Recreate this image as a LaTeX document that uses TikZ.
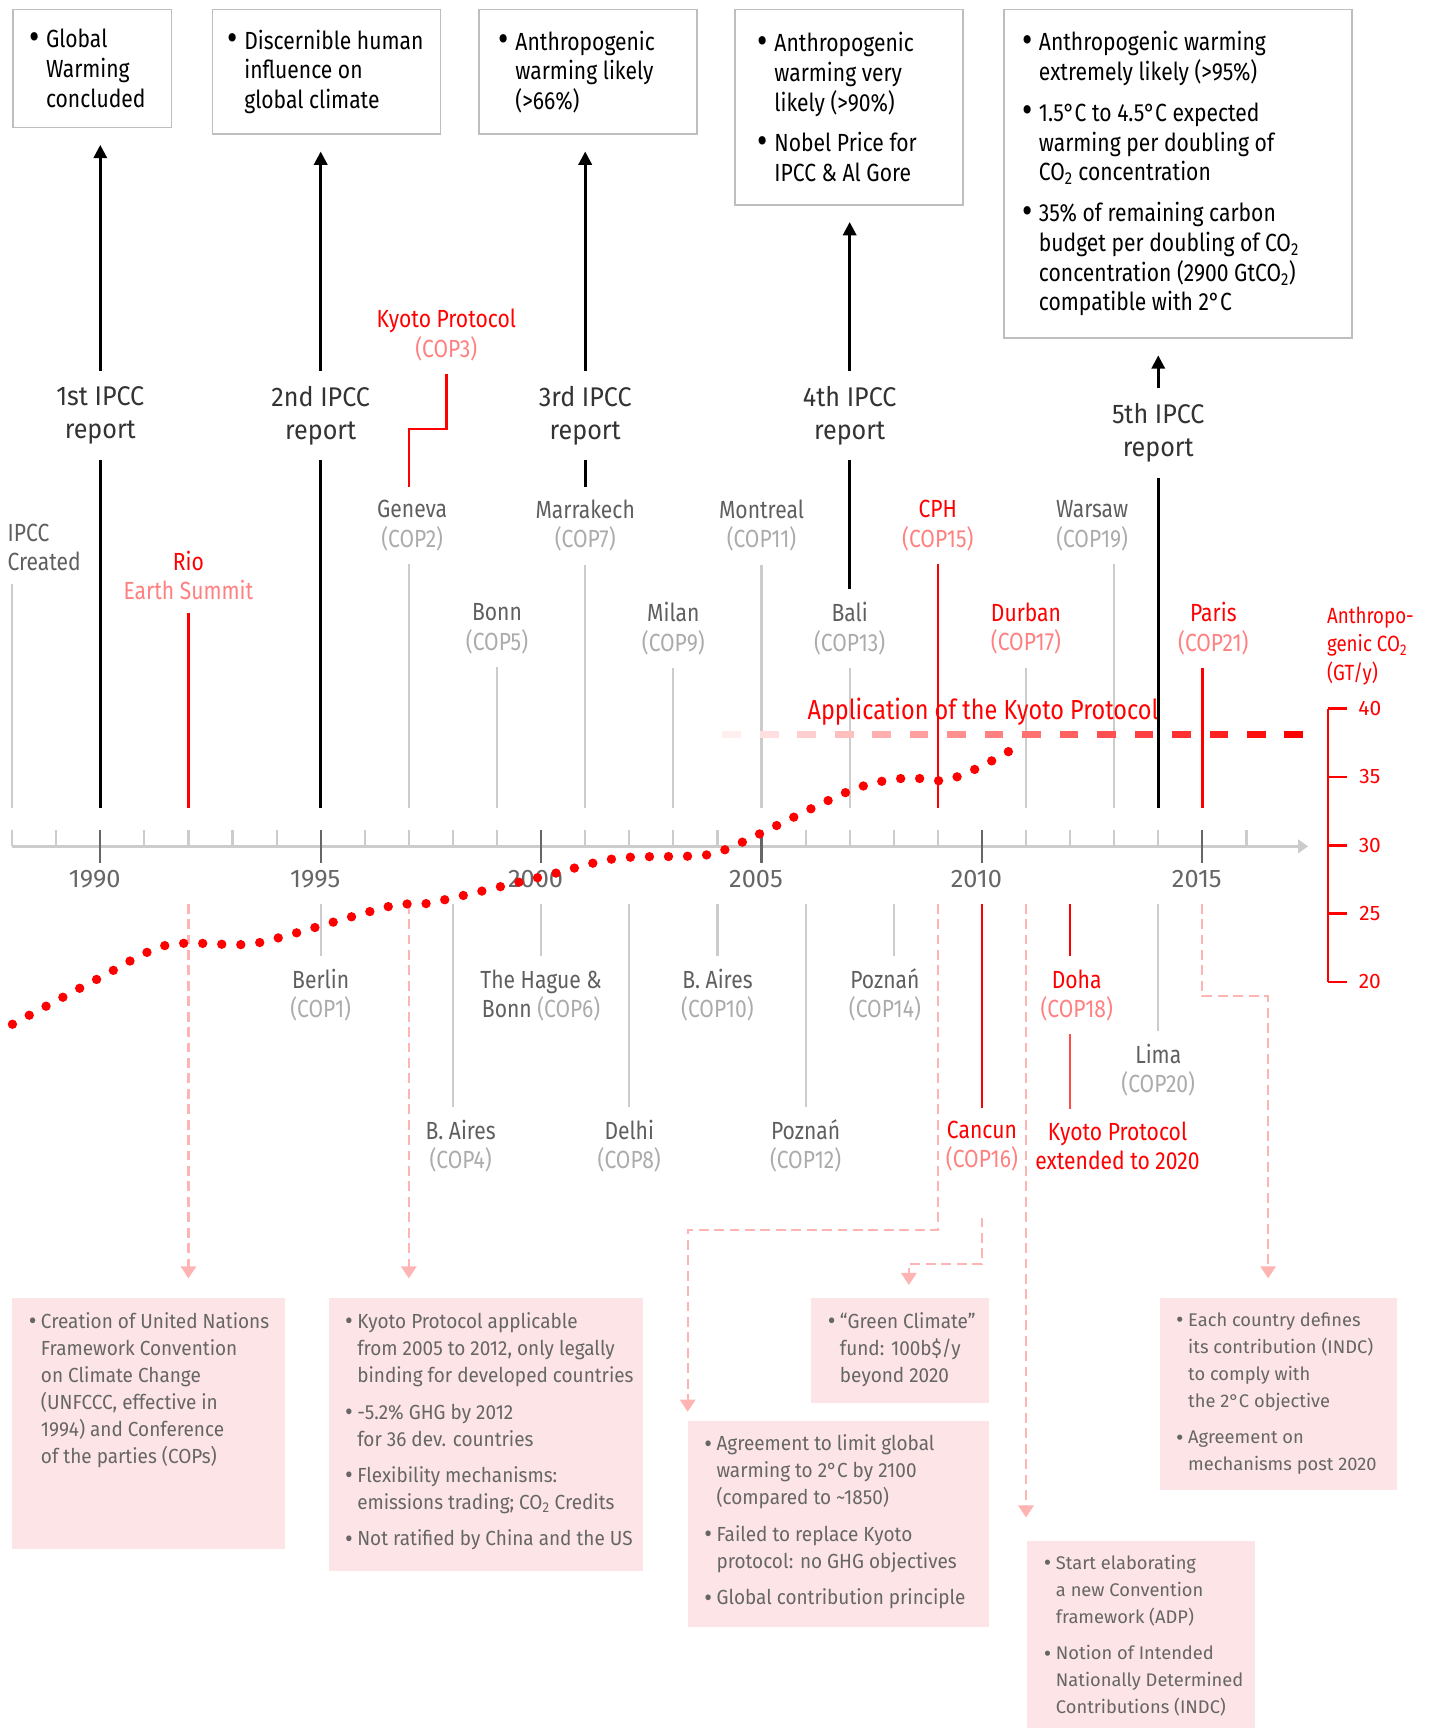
\documentclass[tikz,border=0pt]{standalone}
\usepackage{fontspec}
\setmainfont{Fira Sans}[FakeStretch=0.85]
\newfontfamily\midfont{Fira Sans}[FakeStretch=0.93]
\newfontfamily\widefont{Fira Sans}
\usetikzlibrary{arrows.meta}

\definecolor{copgray}{HTML}{ABABAB}
\definecolor{citygray}{HTML}{5F5F5F}
\definecolor{linegray}{HTML}{CCCCCC}
\definecolor{tickgray}{HTML}{666666}
\definecolor{copred}{HTML}{FF8080}
\definecolor{dashpink}{HTML}{FFB4B4}
\definecolor{notefill}{HTML}{FDE4E6}
\definecolor{notetext}{HTML}{666666}
\definecolor{framegray}{HTML}{BEBEBE}
\definecolor{ipccblack}{HTML}{333333}

\newlength{\bulw}
\newcommand{\bulsize}{1.5}
\newcommand{\itm}[1]{\par\hangindent=\bulw\hangafter=1\noindent\hbox to\bulw{\raisebox{-0.12ex}{\scalebox{\bulsize}{\textbullet}}\hfil}#1\par}
\newcommand{\claims}[3]{\hspace*{#1}\parbox{#2}{\setlength{\parskip}{10pt}\setlength{\bulw}{15pt}#3}}
\newcommand{\notes}[4]{\hspace*{#1}\parbox[c][#2][t]{#3}{\renewcommand{\bulsize}{1.25}\setlength{\parskip}{8.5pt}\setlength{\bulw}{11pt}#4}}
\newcommand{\cop}[3][copgray]{#2\\\textcolor{#1}{(#3)}}

\begin{document}
\begin{tikzpicture}[x=1pt,y=-1pt]
      \tikzstyle{claim}=[draw=framegray,line width=1.5pt,fill=white,anchor=north west,inner sep=0pt,font=\fontsize{22.5}{27}\selectfont]
      \tikzstyle{note}=[fill=notefill,anchor=north west,inner xsep=0pt,inner ysep=13pt,text=notetext,font=\midfont\fontsize{18.5}{24.5}\selectfont]
      \tikzstyle{widenote}=[note,font=\widefont\fontsize{16.6}{24.5}\selectfont]
      \tikzstyle{report}=[align=center,inner sep=0pt,outer sep=14pt,text=ipccblack,font=\midfont\fontsize{24.5}{30}\selectfont]
      \tikzstyle{city}=[align=center,inner sep=0pt,outer sep=12pt,text=citygray,font=\fontsize{22.5}{26.5}\selectfont]
      \tikzstyle{redcity}=[city,text=red]
      \tikzstyle{year}=[text=tickgray,font=\widefont\fontsize{23}{23}\selectfont]
      \tikzstyle{eventline}=[linegray,line width=2pt]
      \tikzstyle{ipccline}=[black,line width=2.4pt]
      \tikzstyle{ipccarrow}=[ipccline,-{Triangle[length=12pt,width=12pt]},shorten >=15pt]
      \tikzstyle{redline}=[red,line width=2.4pt]
      \tikzstyle{link}=[dashpink,line width=2pt,dash pattern=on 9pt off 5pt,-{Triangle[length=11pt,width=14pt]}]
      \tikzstyle{co2}=[red,line width=8.5pt,line cap=round,dash pattern=on 0pt off 17.3pt]
      \useasboundingbox (0,0) rectangle (1297,1568);

      \node[claim,minimum width=144pt,minimum height=107pt] (box1) at (11,8) {\claims{14pt}{128pt}{\itm{Global\\Warming\\concluded}}};
      \node[claim,minimum width=207pt,minimum height=113pt] (box2) at (192,8) {\claims{13pt}{192pt}{\itm{Discernible human\\influence on\\global climate}}};
      \node[claim,minimum width=198pt,minimum height=113pt] (box3) at (434,8) {\claims{17pt}{179pt}{\itm{Anthropogenic\\warming likely\\(>66\%)}}};
      \node[claim,minimum width=207pt,minimum height=177pt] (box4) at (666,8) {\claims{20pt}{185pt}{\itm{Anthropogenic\\warming very\\likely (>90\%)}\itm{Nobel Price for\\IPCC \& Al Gore}}};
      \node[claim,minimum width=316pt,minimum height=298pt] (box5) at (910,8) {\claims{16pt}{298pt}{\itm{Anthropogenic warming\\extremely likely (>95\%)}\itm{1.5°C to 4.5°C expected\\warming per doubling of\\CO\textsubscript{2} concentration}\itm{35\% of remaining carbon\\budget per doubling of CO\textsubscript{2}\\concentration (2900 GtCO\textsubscript{2})\\compatible with 2°C}}};

      \node[report] (r1) at (91,377) {1st IPCC\\report};
      \node[report] (r2) at (291,377) {2nd IPCC\\report};
      \node[report] (r3) at (531,377) {3rd IPCC\\report};
      \node[report] (r4) at (771,377) {4th IPCC\\report};
      \node[report] (r5) at (1051,393) {5th IPCC\\report};

      \foreach \yr in {1988,...,2016} {
        \coordinate (t\yr) at ({91+40*(\yr-1990)},733);
        \coordinate (b\yr) at ({91+40*(\yr-1990)},820);
        \draw[linegray,line width=2pt] ({91+40*(\yr-1990)},753) -- ++(0,15);
      }
      \draw[linegray,line width=2.5pt,-{Triangle[length=9pt,width=12pt]}] (t1988 |- 0,768) -- (1187,768);
      \foreach \yr in {1990,1995,...,2015} {
        \draw[tickgray,line width=2pt] ({91+40*(\yr-1990)},753) -- ++(0,30);
        \node[year] (y\yr) at ({86+40*(\yr-1990)},798) {\yr};
      }

      \node[city,anchor=west,align=left] (created) at (-5,496.5) {IPCC\\Created};
      \node[redcity] (rio) at (171,522) {Rio\\\textcolor{copred}{Earth Summit}};
      \node[redcity] (kyoto) at (405,304) {\cop[copred]{Kyoto Protocol}{COP3}};
      \node[city] (geneva) at (374,477) {\cop{Geneva}{COP2}};
      \node[city] (bonn) at (451,570.5) {\cop{Bonn}{COP5}};
      \node[city] (marrakech) at (531,477) {\cop{Marrakech}{COP7}};
      \node[city] (milan) at (611,570.5) {\cop{Milan}{COP9}};
      \node[city] (montreal) at (691,477) {\cop{Montreal}{COP11}};
      \node[city] (bali) at (771,570.5) {\cop{Bali}{COP13}};
      \node[redcity] (cph) at (851,477) {\cop[copred]{CPH}{COP15}};
      \node[redcity] (durban) at (931,570.5) {\cop[copred]{Durban}{COP17}};
      \node[city] (warsaw) at (991,477) {\cop{Warsaw}{COP19}};
      \node[redcity] (paris) at (1101,570.5) {\cop[copred]{Paris}{COP21}};

      \node[city] (berlin) at (291,903) {\cop{Berlin}{COP1}};
      \node[city] (hague) at (491,903) {The Hague \&\\Bonn \textcolor{copgray}{(COP6)}};
      \node[city] (baires10) at (651,903) {\cop{B. Aires}{COP10}};
      \node[city] (poznan14) at (803,903) {\cop{Poznań}{COP14}};
      \node[redcity] (doha) at (977,903) {\cop[copred]{Doha}{COP18}};
      \node[city] (lima) at (1051,971) {\cop{Lima}{COP20}};
      \node[city] (baires4) at (418,1040) {\cop{B. Aires}{COP4}};
      \node[city] (delhi) at (571,1040) {\cop{Delhi}{COP8}};
      \node[city] (poznan12) at (731,1040) {\cop{Poznań}{COP12}};
      \node[redcity] (cancun) at (891,1040) {\cop[copred]{Cancun}{COP16}};
      \node[redcity] (kyotoext) at (1014,1040) {Kyoto Protocol\\extended to 2020};

      \node[note,minimum width=247pt] (unfccc) at (11,1178) {\notes{15pt}{201pt}{232pt}{\itm{Creation of United Nations\\Framework Convention\\on Climate Change\\(UNFCCC, effective in\\1994) and Conference\\of the parties (COPs)}}};
      \node[note,minimum width=285pt] (kpbox) at (298,1178) {\notes{15pt}{221pt}{270pt}{\itm{Kyoto Protocol applicable\\from 2005 to 2012, only legally\\binding for developed countries}\itm{-5.2\% GHG by 2012\\for 36 dev. countries}\itm{Flexibility mechanisms:\\emissions trading; CO\textsubscript{2} Credits}\itm{Not ratified by China and the US}}};
      \node[note,minimum width=273pt] (agree) at (624,1289) {\notes{15pt}{161pt}{258pt}{\itm{Agreement to limit global\\warming to 2°C by 2100\\(compared to \textasciitilde1850)}\itm{Failed to replace Kyoto\\protocol: no GHG objectives}\itm{Global contribution principle}}};
      \node[note,minimum width=161pt] (fund) at (736,1178) {\notes{15pt}{69pt}{146pt}{\itm{“Green Climate”\\fund: 100b\$/y\\beyond 2020}}};
      \node[widenote,minimum width=207pt] (adp) at (932,1398) {\notes{15pt}{150pt}{192pt}{\itm{Start elaborating\\a new Convention\\framework (ADP)}\itm{Notion of Intended\\Nationally Determined\\Contributions (INDC)}}};
      \node[widenote,minimum width=215pt] (indc) at (1052,1178) {\notes{15pt}{148pt}{200pt}{\itm{Each country defines\\its contribution (INDC)\\to comply with\\the 2°C objective}\itm{Agreement on\\mechanisms post 2020}}};

      \draw[eventline] (t1988 |- created.south) -- (t1988);
      \draw[redline] (rio.south) -- (t1992);
      \draw[eventline] (t1997 |- geneva.south) -- (t1997);
      \draw[eventline] (bonn.south) -- (t1999);
      \draw[eventline] (marrakech.south) -- (t2001);
      \draw[eventline] (milan.south) -- (t2003);
      \draw[eventline] (montreal.south) -- (t2005);
      \draw[eventline] (bali.south) -- (t2007);
      \draw[redline] (cph.south) -- (t2009);
      \draw[eventline] (durban.south) -- (t2011);
      \draw[eventline] (t2013 |- warsaw.south) -- (t2013);
      \draw[redline] (t2015 |- paris.south) -- (t2015);
      \draw[redline] (kyoto.south) -- ++(0,50) -| (t1997 |- geneva.north);

      \draw[ipccline] (r1.south) -- (t1990);
      \draw[ipccline] (r2.south) -- (t1995);
      \draw[ipccline] (r3.south) -- (marrakech.north);
      \draw[ipccline] (r4.south) -- (bali.north);
      \draw[ipccarrow] (r1.north) -- (r1.north |- box1.south);
      \draw[ipccarrow] (r2.north) -- (r2.north |- box2.south);
      \draw[ipccarrow] (r3.north) -- (r3.north |- box3.south);
      \draw[ipccarrow] (r4.north) -- (r4.north |- box4.south);
      \draw[ipccarrow] (r5.north) -- (r5.north |- box5.south);

      \draw[eventline] (b1995) -- (berlin.north);
      \draw[eventline] (b1998) -- (b1998 |- baires4.north);
      \draw[eventline] (b2000) -- (hague.north);
      \draw[eventline] (b2002) -- (delhi.north);
      \draw[eventline] (b2004) -- (baires10.north);
      \draw[eventline] (b2006) -- (poznan12.north);
      \draw[eventline] (b2008) -- (b2008 |- poznan14.north);
      \draw[redline] (b2010) -- (cancun.north);
      \draw[redline] (b2012) -- (b2012 |- doha.north);
      \draw[redline,red!70] (b2012 |- doha.south) -- (b2012 |- kyotoext.north);
      \draw[eventline] (b2014) -- (lima.north);

      \draw[link,shorten >=18pt] (b1992) -- (b1992 |- unfccc.north);
      \draw[link,shorten >=18pt] (b1997) -- (b1997 |- kpbox.north);
      \draw[link,shorten >=8pt] (b2009) -- ++(0,296) -| (agree.north west);
      \draw[link,shorten <=30pt,shorten >=12pt] (cancun.south) -- ++(0,72) -| ([xshift=8pt]fund.north);
      \draw[link,shorten >=21pt] (b2011) -- (b2011 |- adp.north);
      \draw[link,shorten >=18pt] (b2015) -- ++(0,84) -| ([xshift=-9pt]indc.north);

      \foreach \i in {0,...,15} {
        \pgfmathsetmacro\p{6.25*(\i+1)}
        \fill[red!\p] ({655.5+34*\i},663) rectangle ++(17,7);
      }
      \node[text=red,font=\fontsize{25}{25}\selectfont] (kyotoapp) at (892,646) {Application of the Kyoto Protocol};
      \draw[ipccline] (r5.south) -- (t2014);

      \node[anchor=west,align=left,inner sep=0pt,text=red,font=\fontsize{20}{26}\selectfont] (co2label) at (1204,586) {Anthropo-\\genic CO\textsubscript{2}\\(GT/y)};
      \draw[red,line width=2.5pt] (1205,643) -- (1205,891);
      \foreach \v in {20,25,...,40} {
        \draw[red,line width=2.5pt] (1205,{767-12.4*(\v-30)}) -- ++(17,0);
        \node[text=red,font=\widefont\fontsize{19}{19}\selectfont] (co2\v) at (1243,{767-12.4*(\v-30)}) {\v};
      }

      \draw[co2] plot[smooth] coordinates {(11.3,929.4) (88.3,888.4) (150.8,857.7) (220,857.1) (254.6,850.5) (355,822) (389.6,819.4) (491.7,795.5) (559.2,778.9) (628.8,776.6) (662.4,769.2) (771.6,717.4) (821.6,706) (856.2,708.3) (887,697) (917.4,680.7)};
    \end{tikzpicture}
\end{document}
